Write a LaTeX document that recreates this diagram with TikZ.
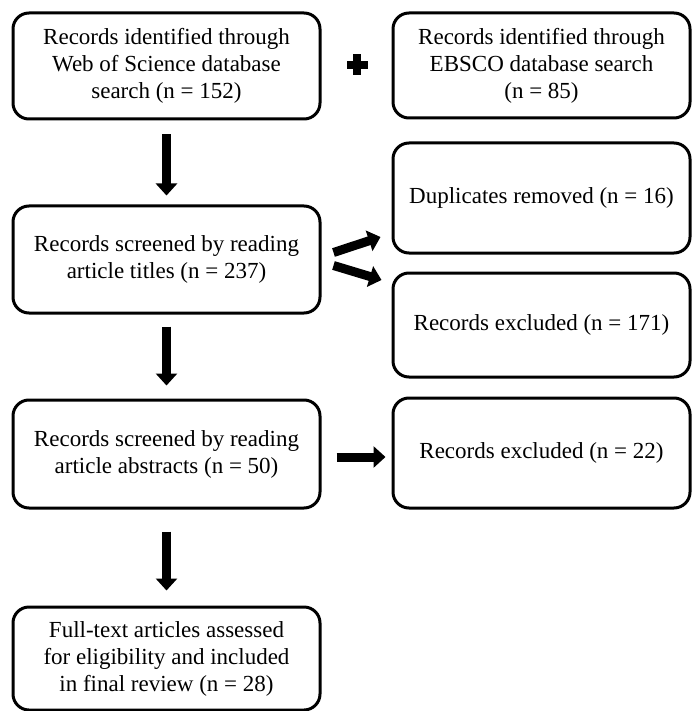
\documentclass[tikz,border=0pt]{standalone}
\usepackage{fontspec}
\setmainfont{Liberation Serif}
\usetikzlibrary{arrows.meta,calc}
\begin{document}
\begin{tikzpicture}[x=1pt,y=-1pt,
  box/.style={draw,line width=3pt,rounded corners=16pt,align=center,
    font=\fontsize{23}{27}\selectfont,inner sep=0pt},
  lbox/.style={box,minimum width=307pt},
  rbox/.style={box,minimum width=297pt},
  blk/.style={line width=9pt,-{Triangle[width=21pt,length=12pt]}},
  plusbar/.style={fill=black,draw=none,inner sep=0pt},
]
\useasboundingbox (0,0) rectangle (691,711);
\fill[white] (0,0) rectangle (691,711);

\node[lbox,minimum height=106pt] (wos) at (166.5,66)
  {Records identified through\\Web of Science database\\search (n = 152)};
\node[rbox,minimum height=105pt] (ebsco) at (541.5,65.5)
  {Records identified through\\EBSCO database search\\(n = 85)};
\node[plusbar,minimum width=21pt,minimum height=8pt] (plush) at (357,65) {};
\node[plusbar,minimum width=8pt,minimum height=21pt] (plusv) at (357,65) {};

\node[lbox,minimum height=107pt] (titles) at (166.5,259.5)
  {Records screened by reading\\article titles (n = 237)};
\node[rbox,minimum height=110pt] (dup) at (541.5,198)
  {Duplicates removed (n = 16)};
\node[rbox,minimum height=104pt] (excl1) at (541.5,325)
  {Records excluded (n = 171)};

\node[lbox,minimum height=108pt] (abstr) at (166.5,454)
  {Records screened by reading\\article abstracts (n = 50)};
\node[rbox,minimum height=110pt] (excl2) at (541.5,453)
  {Records excluded (n = 22)};

\node[lbox,minimum height=103pt] (final) at (166.5,658.5)
  {Full-text articles assessed\\for eligibility and included\\in final review (n = 28)};

\draw[blk,shorten <=14pt,shorten >=9pt] (wos.south) -- (titles.north);
\draw[blk,shorten <=12pt,shorten >=13pt] (titles.south) -- (abstr.north);
\draw[blk,shorten <=22pt,shorten >=15pt] (abstr.south) -- (final.north);
\draw[blk,shorten <=15pt,shorten >=6pt] ($(abstr.east)+(0,3)$) -- ($(excl2.west)+(0,4)$);

\draw[blk] ($(titles.east)+(12,-7)$) -- ($(dup.west)+(-11,39)$);
\draw[blk] ($(titles.east)+(12,6)$) -- ($(excl1.west)+(-10,-45)$);
\end{tikzpicture}
\end{document}
